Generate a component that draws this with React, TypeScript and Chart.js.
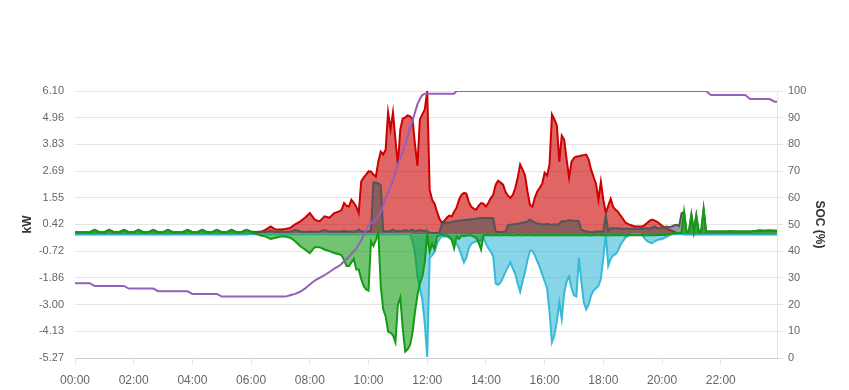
import { useEffect, useRef } from 'react';
import { Chart, registerables } from 'chart.js';

Chart.register(...registerables);

// time grid (minutes after midnight): [start, end, step]
const timeSegments: number[][] = [
  [0, 530, 10],
  [540, 1290, 5],
  [1300, 1430, 10],
  [1435, 1435, 5],
];
const minutes: number[] = [];
for (const [a, b, s] of timeSegments) for (let t = a; t <= b; t += s) minutes.push(t);

const tickMinutes = [0, 120, 240, 360, 480, 600, 720, 840, 960, 1080, 1200, 1320];
const timeLabels = ['00:00', '02:00', '04:00', '06:00', '08:00', '10:00', '12:00', '14:00', '16:00', '18:00', '20:00', '22:00'];
const kwTicks = [-5.27, -4.13, -3.0, -1.86, -0.72, 0.42, 1.55, 2.69, 3.83, 4.96, 6.1];
const socTicks = [0, 10, 20, 30, 40, 50, 60, 70, 80, 90, 100];

// PV production (kW)
const pvKw = [
  0, 0, 0, 0, 0, 0,
  0, 0, 0, 0, 0, 0,
  0, 0, 0, 0, 0, 0,
  0, 0, 0, 0, 0, 0,
  0, 0, 0, 0, 0, 0,
  0, 0, 0, 0, 0, 0,
  0.02, 0.05, 0.1, 0.2, 0.33, 0.2,
  0.2, 0.22, 0.27, 0.42, 0.54, 0.7,
  0.9, 0.62, 0.55, 0.76, 0.7, 0.9,
  // 9h (5 min)
  0.97, 1.04, 1.33, 1.21, 1.18, 1.47, 1.34, 1.17, 0.9, 2.24, 2.41, 2.54,
  2.68, 2.67, 2.54, 2.45, 3.09, 3.52, 3.4, 3.6, 5.19, 4.46, 5.19, 4.03,
  2.97, 4.46, 4.93, 4.97, 5.06, 5.02, 4.89, 3.82, 2.92, 4.89, 5.1, 5.32,
  6.1, 1.9, 1.47, 1.3, 0.96, 0.66, 0.49, 0.57, 0.7, 0.79, 0.76, 0.96,
  1.13, 1.47, 1.68, 1.76, 1.73, 1.38, 1.17, 1.09, 1.04, 1.21, 1.33, 1.3,
  1.18, 1.34, 1.54, 1.68, 2.11, 2.28, 2.2, 2.11, 1.81, 1.64, 1.54, 1.68,
  1.97, 2.41, 2.97, 2.75, 2.5, 1.81, 1.26, 1.17, 1.56, 1.82, 1.98, 2.15,
  2.62, 2.5, 2.97, 5.1, 4.89, 4.63, 3.09, 4.2, 4.03, 3.18, 2.41, 3.09,
  3.25, 3.31, 3.32, 3.35, 3.37, 3.39, 3.18, 2.75, 2.45, 2.15, 1.47, 2.24,
  1.47, 0.91, 1.21, 1.51, 1.17, 1.04, 0.96, 0.8, 0.66, 0.5, 0.44, 0.4,
  0.36, 0.33, 0.33, 0.33, 0.33, 0.4, 0.49, 0.58, 0.62, 0.58, 0.53, 0.45,
  0.36, 0.3, 0.23, 0.18, 0.15, 0.1, 0.06, 0.03, 0.02, 0, 0, 0,
  0, 0, 0, 0, 0, 0, 0,
  // 21:40 on (10 min)
  0, 0, 0, 0, 0, 0, 0, 0, 0, 0, 0, 0, 0, 0, 0,
];

// load (kW)
const loadKw = [
  0.09, 0.09, 0.09, 0.09, 0.19, 0.09,
  0.09, 0.19, 0.09, 0.09, 0.19, 0.09,
  0.09, 0.19, 0.09, 0.09, 0.19, 0.09,
  0.09, 0.19, 0.09, 0.09, 0.09, 0.19,
  0.09, 0.09, 0.19, 0.09, 0.09, 0.19,
  0.09, 0.09, 0.19, 0.09, 0.09, 0.19,
  0.12, 0.1, 0.12, 0.1, 0.15, 0.1,
  0.12, 0.1, 0.12, 0.18, 0.12, 0.1,
  0.12, 0.1, 0.12, 0.18, 0.12, 0.12,
  0.12, 0.12, 0.15, 0.12, 0.12, 0.12, 0.12, 0.12, 0.2, 0.12, 0.12, 0.12,
  0.12, 0.15, 2.2, 2.2, 2.15, 2.1, 0.15, 0.12, 0.12, 0.15, 0.2, 0.12,
  0.15, 0.12, 0.15, 0.18, 0.15, 0.15, 0.2, 0.12, 0.15, 0.18, 0.15, 0.15,
  0.12, 0.08, 0.05, 0.05, 0.05, 0.08, 0.45, 0.48, 0.5, 0.5, 0.52, 0.55,
  0.55, 0.58, 0.6, 0.6, 0.62, 0.62, 0.64, 0.65, 0.66, 0.68, 0.69, 0.69,
  0.69, 0.69, 0.69, 0.68, 0.12, 0.1, 0.1, 0.1, 0.12, 0.38, 0.4, 0.42,
  0.44, 0.45, 0.47, 0.5, 0.5, 0.55, 0.62, 0.55, 0.5, 0.45, 0.45, 0.42,
  0.42, 0.45, 0.42, 0.4, 0.42, 0.4, 0.45, 0.55, 0.55, 0.57, 0.6, 0.57,
  0.57, 0.57, 0.55, 0.19, 0.15, 0.12, 0.12, 0.08, 0.1, 0.12, 0.12, 0.12,
  0.12, 0.8, 0.15, 0.25, 0.25, 0.25, 0.26, 0.24, 0.23, 0.23, 0.23, 0.23,
  0.24, 0.23, 0.23, 0.25, 0.23, 0.25, 0.25, 0.26, 0.28, 0.33, 0.25, 0.25,
  0.28, 0.3, 0.33, 0.3, 0.33, 0.38, 0.4, 0.35, 0.9, 0.95, 0.12, 0.12,
  0.83, 0.12, 0.8, 0.12, 0.12, 1.07, 0.12,
  0.12, 0.12, 0.12, 0.12, 0.13, 0.12, 0.12, 0.12, 0.12, 0.14, 0.16, 0.15, 0.16, 0.15, 0.15,
];

// battery (kW)
const batteryKw = [
  0.09, 0.09, 0.09, 0.09, 0.19, 0.09,
  0.09, 0.19, 0.09, 0.09, 0.19, 0.09,
  0.09, 0.19, 0.09, 0.09, 0.19, 0.09,
  0.09, 0.19, 0.09, 0.09, 0.09, 0.19,
  0.09, 0.09, 0.19, 0.09, 0.09, 0.19,
  0.09, 0.09, 0.19, 0.09, 0.09, 0.19,
  0.1, 0.02, -0.05, -0.1, -0.2, -0.15,
  -0.1, -0.1, -0.15, -0.3, -0.5, -0.65,
  -0.8, -0.55, -0.55, -0.65, -0.72, -0.8,
  -0.85, -0.9, -1.1, -1.35, -1.35, -1.2, -1.05, -1.5, -1.5, -1.9, -2.2, -2.35,
  -2.4, -0.3, -0.5, -0.25, 0.1, -2.2, -3.2, -3.5, -4.15, -4.2, -4.3, -4.6,
  -3.0, -2.7, -4.0, -5.0, -4.9, -4.7, -4.2, -3.3, -2.6, -2.1, -1.8, -1.2,
  0, -0.75, -0.4, -0.65, -0.1, -0.05, 0, -0.05, -0.05, -0.1, -0.25, -0.6,
  -0.1, -0.2, -0.05, -0.08, -0.05, -0.05, -0.05, -0.1, -0.15, -0.35, -0.65, -0.05,
  -0.04, -0.03, -0.05, -0.04, -0.03, -0.04, -0.05, -0.03, -0.04, -0.04, -0.03, -0.05,
  -0.04, -0.03, -0.04, -0.05, -0.03, -0.04, -0.04, -0.03, -0.05, -0.04, -0.03, -0.04,
  -0.04, -0.05, -0.03, -0.04, -0.04, -0.03, -0.05, -0.04, -0.03, -0.04, -0.04, -0.03,
  -0.04, -0.05, -0.03, -0.04, -0.04, -0.03, -0.04, -0.05, -0.03, -0.04, -0.04, -0.03,
  -0.04, -0.03, -0.05, -0.04, -0.03, -0.04, -0.04, -0.03, -0.04, -0.05, -0.03, -0.04,
  -0.04, -0.03, -0.04, -0.04, -0.03, -0.05, -0.04, -0.03, -0.04, -0.04, -0.03, -0.03,
  -0.03, -0.03, -0.02, 0, 0.02, 0.04, 0.05, 0.05, 0.08, 0.95, 0.1, 0.12,
  0.83, 0.1, 0.8, 0.1, 0.12, 1.07, 0.12,
  0.12, 0.12, 0.12, 0.12, 0.13, 0.12, 0.12, 0.12, 0.12, 0.14, 0.16, 0.15, 0.16, 0.15, 0.15,
];

// grid (kW)
const gridKw = [
  0, 0, 0, 0, 0, 0,
  0, 0, 0, 0, 0, 0,
  0, 0, 0, 0, 0, 0,
  0, 0, 0, 0, 0, 0,
  0, 0, 0, 0, 0, 0,
  0, 0, 0, 0, 0, 0,
  0, 0, 0, 0, 0, 0,
  0, 0, 0, 0, 0, 0,
  0, 0, 0, 0, 0, 0,
  0, 0, 0, 0, 0, 0, 0, 0, 0, 0, 0, 0,
  0, 0, 0, 0, 0, 0, 0, 0, 0, 0, 0, 0,
  0, 0, 0, 0, 0, 0, -0.3, -0.8, -1.8, -2.3, -2.8, -3.8,
  -5.22, -1.0, -0.9, -0.75, -0.4, -0.2, -0.1, -0.1, -0.1, -0.15, -0.2, -0.3,
  -0.4, -0.6, -0.9, -1.2, -1.0, -0.6, -0.4, -0.35, -0.3, -0.3, -0.25, -0.15,
  -0.4, -0.6, -0.75, -0.95, -2.1, -2.15, -2.05, -1.85, -1.6, -1.4, -1.2, -1.45,
  -1.7, -2.1, -2.45, -2.0, -1.6, -1.1, -0.7, -0.7, -0.9, -1.15, -1.4, -1.7,
  -2.0, -2.3, -3.3, -4.6, -4.3, -3.7, -2.9, -3.6, -2.5, -2.0, -1.8, -2.3,
  -2.6, -2.65, -1.0, -2.0, -2.9, -3.2, -3.0, -2.6, -2.4, -2.3, -2.2, -1.9,
  -1.0, 0, -1.35, -1.05, -0.9, -0.85, -0.7, -0.45, -0.3, -0.15, -0.07, -0.03,
  0, 0, 0, 0, -0.05, -0.2, -0.3, -0.35, -0.38, -0.3, -0.25, -0.22,
  -0.2, -0.15, -0.1, -0.05, 0, 0, 0, 0, 0, 0, 0, 0,
  0, 0, 0, 0, 0, 0, 0,
  0, 0, 0, 0, 0, 0, 0, 0, 0, 0, 0, 0, 0, 0, 0,
];

// battery state of charge (%)
const socPct = [
  28, 28, 28, 28, 27, 27,
  27, 27, 27, 27, 27, 26,
  26, 26, 26, 26, 26, 25,
  25, 25, 25, 25, 25, 25,
  24, 24, 24, 24, 24, 24,
  23, 23, 23, 23, 23, 23,
  23, 23, 23, 23, 23, 23,
  23, 23, 23.5, 24, 24.8, 26,
  27.5, 29, 30, 31, 32.2, 33.5,
  34.5, 35.3, 36.2, 37, 38, 39, 40, 41, 42.5, 44, 46, 48,
  49.5, 50.5, 51, 52, 53, 54.5, 57, 60, 62, 64, 66.5, 69.5,
  72.5, 75, 77.5, 80, 83, 86, 89, 92, 95, 97, 98.5, 99,
  99, 99, 99, 99, 99, 99, 99, 99, 99, 99, 99, 99,
  100, 100, 100, 100, 100, 100, 100, 100, 100, 100, 100, 100,
  100, 100, 100, 100, 100, 100, 100, 100, 100, 100, 100, 100,
  100, 100, 100, 100, 100, 100, 100, 100, 100, 100, 100, 100,
  100, 100, 100, 100, 100, 100, 100, 100, 100, 100, 100, 100,
  100, 100, 100, 100, 100, 100, 100, 100, 100, 100, 100, 100,
  100, 100, 100, 100, 100, 100, 100, 100, 100, 100, 100, 100,
  100, 100, 100, 100, 100, 100, 100, 100, 100, 100, 100, 100,
  100, 100, 100, 100, 100, 100, 100, 100, 100, 100, 100, 100,
  100, 100, 100, 100, 100, 100, 100,
  98.5, 98.5, 98.5, 98.5, 98.5, 98.5, 98.5, 98.5, 97, 97, 97, 97, 97, 96, 96,
];

Chart.defaults.font.family = "'Liberation Sans', Arial, Helvetica, sans-serif";

export default function App() {
  const ref = useRef<HTMLCanvasElement | null>(null);

  useEffect(() => {
    document.body.style.margin = '0';
    const canvas = ref.current;
    if (!canvas) return;
    const pts = (vals: number[]) => minutes.map((t, i) => ({ x: t, y: vals[i] }));
    const gridColor = 'rgba(0,0,0,0.1)';

    const chart = new Chart(canvas, {
      type: 'line',
      data: {
        datasets: [
          {
            label: 'SOC',
            data: pts(socPct),
            yAxisID: 'y1',
            borderColor: 'rgb(150,95,185)',
            borderWidth: 2,
            fill: false,
            order: 0,
          },
          {
            label: 'Battery',
            data: pts(batteryKw),
            yAxisID: 'y',
            borderColor: 'rgb(20,155,20)',
            backgroundColor: 'rgba(20,155,20,0.6)',
            borderWidth: 2,
            fill: 'origin',
            order: 1,
          },
          {
            label: 'Grid',
            data: pts(gridKw),
            yAxisID: 'y',
            borderColor: 'rgb(55,185,215)',
            backgroundColor: 'rgba(55,185,215,0.6)',
            borderWidth: 2,
            fill: 'origin',
            order: 2,
          },
          {
            label: 'Load',
            data: pts(loadKw),
            yAxisID: 'y',
            borderColor: 'rgb(85,85,85)',
            backgroundColor: 'rgba(85,85,85,0.6)',
            borderWidth: 2,
            fill: 'origin',
            order: 3,
          },
          {
            label: 'PV',
            data: pts(pvKw),
            yAxisID: 'y',
            borderColor: 'rgb(204,0,0)',
            backgroundColor: 'rgba(204,0,0,0.6)',
            borderWidth: 2,
            fill: 'origin',
            order: 4,
          },
        ],
      },
      options: {
        responsive: false,
        animation: false,
        events: [],
        layout: { padding: { top: 91, left: 0, right: 0, bottom: 0 } },
        elements: { point: { radius: 0 }, line: { tension: 0 } },
        plugins: { legend: { display: false }, tooltip: { enabled: false } },
        scales: {
          x: {
            type: 'linear',
            min: 0,
            max: 1435,
            afterBuildTicks: (axis: any) => {
              axis.ticks = tickMinutes.map((v) => ({ value: v }));
            },
            afterFit: (axis: any) => {
              axis.height = 32;
            },
            ticks: {
              autoSkip: false,
              maxRotation: 0,
              padding: 9,
              color: '#666',
              font: { size: 12 },
              callback: (_v: any, i: number) => timeLabels[i],
            },
            grid: { drawOnChartArea: false, drawTicks: true, tickLength: 6, color: gridColor },
            border: { display: true, color: gridColor },
          },
          y: {
            type: 'linear',
            position: 'left',
            min: -5.27,
            max: 6.1,
            afterBuildTicks: (axis: any) => {
              axis.ticks = kwTicks.map((v) => ({ value: v }));
            },
            afterFit: (axis: any) => {
              axis.width = 75;
            },
            ticks: {
              padding: 11,
              color: '#666',
              font: { size: 11 },
              callback: (v: any) => Number(v).toFixed(2),
            },
            grid: { drawTicks: false, color: gridColor },
            border: { display: false },
            title: {
              display: true,
              text: 'kW',
              color: '#333',
              font: { size: 12, weight: 'bold' },
              padding: { top: 20, bottom: 0 },
            },
          },
          y1: {
            type: 'linear',
            position: 'right',
            min: 0,
            max: 100,
            afterBuildTicks: (axis: any) => {
              axis.ticks = socTicks.map((v) => ({ value: v }));
            },
            afterFit: (axis: any) => {
              axis.width = 72;
            },
            ticks: { padding: 5, color: '#666', font: { size: 11 } },
            grid: { drawOnChartArea: false, tickLength: 6, color: gridColor },
            border: { display: true, color: gridColor },
            title: {
              display: true,
              text: 'SOC (%)',
              color: '#333',
              font: { size: 12, weight: 'bold' },
              padding: { top: 22, bottom: 0 },
            },
          },
        },
      } as any,
    });
    return () => chart.destroy();
  }, []);

  return (
    <div style={{ width: 849, height: 390, overflow: 'hidden' }}>
      <canvas ref={ref} width={849} height={390} style={{ display: 'block' }} />
    </div>
  );
}
